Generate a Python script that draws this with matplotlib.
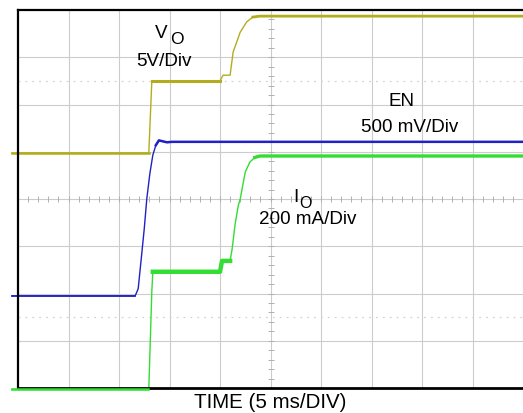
import numpy as np
import matplotlib
matplotlib.use("Agg")
import matplotlib.pyplot as plt

plt.rcParams['font.family'] = ['Liberation Sans', 'DejaVu Sans']

# Scope traces, in divisions (x: 0..10, y: 0..8)
vo_x = [-0.12, 2.59, 2.65, 4.00, 4.06, 4.18, 4.20, 4.26, 4.40, 4.53, 4.65, 4.79, 10.0]
vo_y = [4.97, 4.97, 6.50, 6.50, 6.62, 6.62, 6.62, 7.11, 7.53, 7.75, 7.85, 7.87, 7.87]

en_x = [-0.12, 2.32, 2.38, 2.44, 2.50, 2.55, 2.61, 2.67, 2.73, 2.79, 2.87, 2.95, 3.05, 10.0]
en_y = [1.95, 1.95, 2.10, 2.73, 3.37, 4.00, 4.53, 4.93, 5.14, 5.24, 5.22, 5.20, 5.21, 5.21]

io_x = [-0.12, 2.57, 2.59, 2.65, 2.67, 4.00, 4.04, 4.20, 4.24, 4.30, 4.36, 4.40, 4.50, 4.59, 4.69, 4.79, 4.99, 10.0]
io_y = [-0.03, -0.03, -0.03, 2.05, 2.46, 2.46, 2.69, 2.69, 2.94, 3.47, 3.85, 4.00, 4.57, 4.78, 4.88, 4.91, 4.91, 4.91]

vo_name, vo_sub, vo_scale = "V", "O", "5V/Div"
en_name, en_scale = "EN", "500 mV/Div"
io_name, io_sub, io_scale = "I", "O", "200 mA/Div"
xlabel = "TIME (5 ms/DIV)"

W, H = 523, 414
fig = plt.figure(figsize=(W / 100, H / 100), dpi=100)
L, R, T, B = 18, 523, 11, 389
ax = fig.add_axes([L / W, 1 - B / H, (R - L) / W, (B - T) / H])
ax.set_xlim(0, 10)
ax.set_ylim(0, 8)

# grid
grid_c = '#cccccc'
for gx in range(1, 10):
    ax.axvline(gx, color=grid_c, lw=0.8, zorder=1)
for gy in range(1, 8):
    ax.axhline(gy, color=grid_c, lw=0.8, zorder=1)
for gy in (1.5, 6.5):
    ax.axhline(gy, color='#d4d4d4', lw=0.9, ls=(0, (1.5, 4)), zorder=1)
# center crosshair ticks
tx = np.arange(0.2, 10, 0.2)
ty = np.arange(0.2, 8, 0.2)
ax.plot(tx, np.full_like(tx, 4.0), ls='none', marker='|', ms=4, mew=0.7, color='#b0b0b0', zorder=1)
ax.plot(np.full_like(ty, 5.0), ty, ls='none', marker='_', ms=4, mew=0.7, color='#b0b0b0', zorder=1)

ax.set_xticks([])
ax.set_yticks([])
for s in ('top', 'left'):
    ax.spines[s].set_linewidth(1.6)
ax.spines['bottom'].set_linewidth(2.0)
ax.spines['right'].set_visible(False)
for s in ax.spines.values():
    s.set_color('black')
    s.set_zorder(5)

yel = '#b3ad1e'
blu = '#2121c4'
grn = '#33dd33'

ax.plot(vo_x, vo_y, color=yel, lw=1.0, clip_on=False, zorder=3)
ax.plot(vo_x[:2], vo_y[:2], color=yel, lw=1.8, clip_on=False, zorder=3)
ax.plot(vo_x[2:4], vo_y[2:4], color=yel, lw=2.2, clip_on=False, zorder=3)
ax.plot(vo_x[-3:], vo_y[-3:], color=yel, lw=2.0, clip_on=False, zorder=3)

ax.plot(en_x, en_y, color=blu, lw=1.0, clip_on=False, zorder=3)
ax.plot(en_x[:2], en_y[:2], color=blu, lw=1.2, clip_on=False, zorder=3)
ax.plot(en_x[-6:], en_y[-6:], color=blu, lw=1.8, clip_on=False, zorder=3)

ax.plot(io_x, io_y, color=grn, lw=1.0, clip_on=False, zorder=3)
ax.plot(io_x[:2], io_y[:2], color=grn, lw=1.8, clip_on=False, zorder=6)
ax.plot(io_x[4:8], io_y[4:8], color=grn, lw=3.2, clip_on=False, zorder=3)
ax.plot(io_x[-4:], io_y[-4:], color=grn, lw=2.4, clip_on=False, zorder=3)

def ftxt(px, py, s, size, **kw):
    fig.text(px / W, 1 - py / H, s, fontsize=size, ha='center', va='center', **kw)

fs = 13.6
ftxt(161, 33, vo_name, fs)
ftxt(176.5, 40, vo_sub, 12.5)
ftxt(164, 62, vo_scale, fs)
ftxt(401, 102, en_name, fs)
ftxt(410, 127, en_scale, fs)
ftxt(296, 197.5, io_name, fs)
ftxt(305, 203.5, io_sub, 11.5)
ftxt(308, 220, io_scale, fs)
ftxt(270, 403, xlabel, 14.8)

fig.savefig("out.png", dpi=100)
